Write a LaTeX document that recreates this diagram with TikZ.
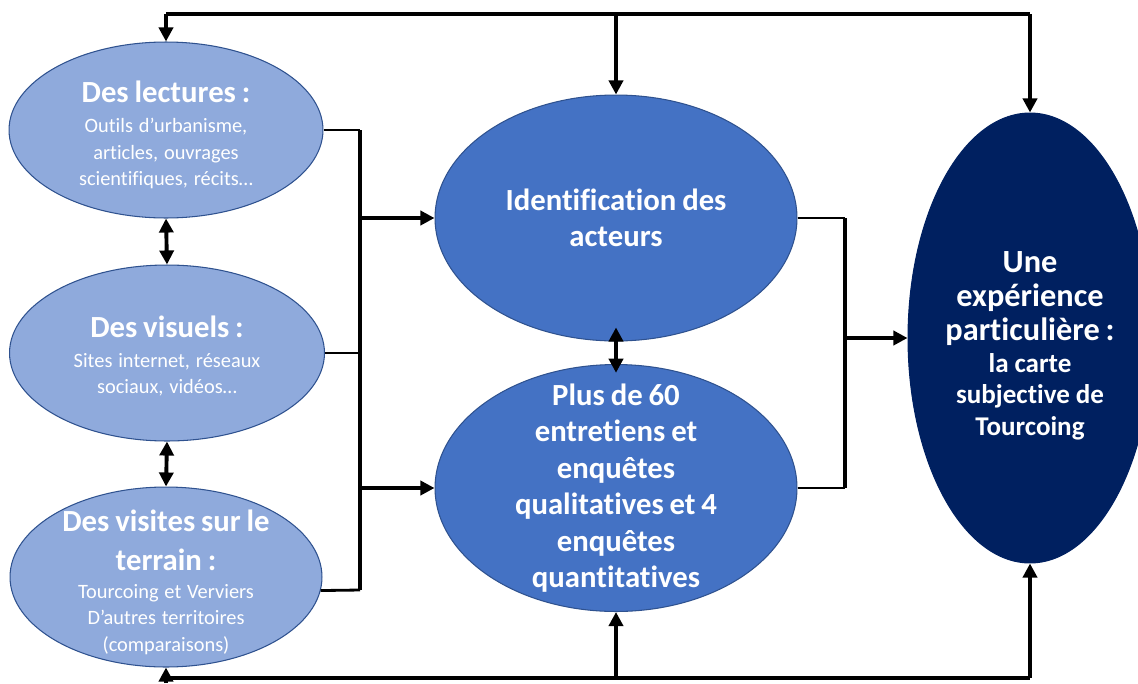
\documentclass[tikz,border=0pt]{standalone}
\usepackage{fontspec}
\setmainfont{Carlito}[Ligatures=NoCommon]
\usetikzlibrary{arrows.meta,shapes.geometric}
\definecolor{lightblue}{HTML}{8FAADC}
\definecolor{midblue}{HTML}{4472C4}
\definecolor{navy}{HTML}{002060}
\definecolor{rim}{HTML}{2F528F}
\newcommand{\hd}{\bfseries\fontsize{17.5}{20.8}\selectfont}
\newcommand{\sm}{\mdseries\fontsize{11.6}{15}\selectfont}
\newcommand{\cartehd}{\bfseries\fontsize{18.4}{19.3}\selectfont}
\newcommand{\cartesm}{\bfseries\fontsize{15.4}{18}\selectfont}
\tikzset{oval/.style={ellipse,draw=rim,line width=0.6pt,inner sep=0pt},
 lightoval/.style={oval,fill=lightblue},
 midoval/.style={oval,fill=midblue},
 darkoval/.style={oval,draw=navy,fill=navy},
 txt/.style={text=white,align=center,text width=6cm,inner sep=0pt},
 link/.style={line width=2.2pt},
 stub/.style={line width=1.6pt},
 arr/.style={link,-{Triangle[length=8pt,width=8pt]}},
 darr/.style={link,{Triangle[length=8pt,width=8pt]}-{Triangle[length=8pt,width=8pt]}},
}

\begin{document}
\begin{tikzpicture}[x=0.02cm,y=-0.02cm]
    \useasboundingbox (0,0) rectangle (1138,683);
    \node[lightoval,minimum width=6.28cm,minimum height=3.52cm] (lectures) at (166,130) {};
    \node[lightoval,minimum width=6.3cm,minimum height=3.52cm] (visuels) at (167,353) {};
    \node[lightoval,minimum width=6.24cm,minimum height=3.6cm] (visites) at (166,577) {};
    \node[midoval,minimum width=7.24cm,minimum height=4.92cm] (ident) at (616,218) {};
    \node[midoval,minimum width=7.24cm,minimum height=4.94cm] (plus) at (616,488) {};
    \node[darkoval,minimum width=4.88cm,minimum height=9cm] (carte) at (1030,338) {};

    \node[txt,yshift=-0.1cm] (lecturesT) at (lectures) {{\hd Des lectures :\par}\vspace{2pt}\sm Outils d’urbanisme,\\ articles, ouvrages\\ scientifiques, récits…\par};
    \node[txt,yshift=-0.06cm] (visuelsT) at (visuels) {{\hd Des visuels :\par}\vspace{2pt}\sm Sites internet, réseaux\\ sociaux, vidéos…\par};
    \node[txt,yshift=-0.1cm] (visitesT) at (visites) {{\hd Des visites sur le\\[1.5pt] terrain :\par}\vspace{1pt}\sm Tourcoing et Verviers\\ D’autres territoires\\ (comparaisons)\par};
    \node[txt] (identT) at (ident) {\hd Identification des\\ acteurs\par};
    \node[txt] (plusT) at (plus) {\hd Plus de 60\\ entretiens et\\ enquêtes\\ qualitatives et 4\\ enquêtes\\ quantitatives\par};
    \node[txt,yshift=-0.16cm] (carteT) at (carte) {{\cartehd Une\\ expérience\\ particulière :\par}\cartesm la carte\\ subjective de\\ Tourcoing\par};

    \coordinate (topL) at (166,14);
    \coordinate (topR) at (1030,14);
    \coordinate (botL) at (166,678);
    \coordinate (botR) at (1030,678);
    \coordinate (lbusS) at (360,590);
    \coordinate (rbusS) at (845,488);

    \draw[link] (topL) -- (topR);
    \draw[arr] (topL) -- (lectures.north);
    \draw[arr] (ident.north |- topL) -- (ident.north);
    \draw[arr] (topR) -- (carte.north);

    \draw[link] (botL) -- (botR);
    \draw[arr] (166,683) -- (visites.south);
    \draw[arr] (plus.south |- botL) -- (plus.south);
    \draw[arr] (botR) -- (carte.south);

    \draw[darr] (lectures.south) -- (visuels.north);
    \draw[darr] (visuels.south) -- (visites.north);
    \draw[darr,shorten <=-8pt,shorten >=-5pt] (ident.south) -- (plus.north);

    \draw[stub] (lectures.east) -- (lectures.east -| lbusS);
    \draw[stub] (visuels.east) -- (visuels.east -| lbusS);
    \draw[stub] (visites.-5) -- (lbusS);
    \draw[link] (lectures.east -| lbusS) -- (lbusS);
    \draw[arr] (ident.west -| lbusS) -- (ident.west);
    \draw[arr] (plus.west -| lbusS) -- (plus.west);

    \draw[stub] (ident.east) -- (ident.east -| rbusS);
    \draw[stub] (plus.east) -- (rbusS);
    \draw[link] (ident.east -| rbusS) -- (rbusS);
    \draw[arr] (carte.west -| rbusS) -- (carte.west);
\end{tikzpicture}
\end{document}
